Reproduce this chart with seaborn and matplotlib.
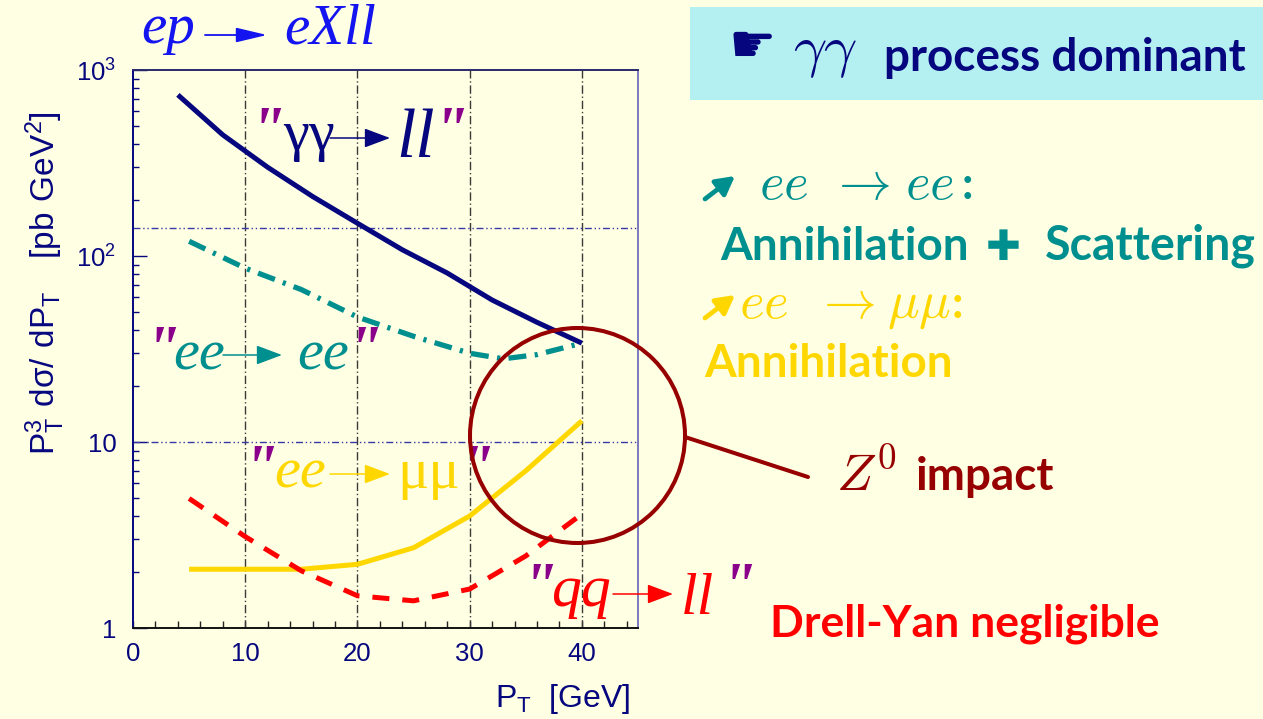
import matplotlib
matplotlib.use("Agg")
import matplotlib.pyplot as plt
import seaborn as sns
from matplotlib.patches import Ellipse, Rectangle, FancyArrowPatch
from matplotlib.lines import Line2D
from matplotlib.ticker import FixedLocator, MultipleLocator, LogLocator, NullFormatter

# ---- data: P_T (GeV) and P_T^3 dsigma/dP_T (pb GeV^2) for each subprocess ----
pt_gg = [4, 8, 12, 16, 20, 24, 28, 32, 36, 40]
xs_gg = [735, 448, 300, 209, 150, 108, 81, 58, 44, 34]

pt_ee = [5, 10, 15, 20, 25, 30, 33, 36, 40]
xs_ee = [120, 86, 66, 47, 37, 30, 28, 29.5, 34]

pt_mm = [5, 10, 15, 20, 25, 30, 35, 40]
xs_mm = [2.07, 2.07, 2.07, 2.2, 2.7, 4.0, 7.0, 13.0]

pt_qq = [5, 10, 15, 20, 25, 30, 35, 40]
xs_qq = [4.97, 3.1, 2.03, 1.49, 1.40, 1.62, 2.44, 4.1]

x_ticks = [0, 10, 20, 30, 40]
x_tick_labels = ["0", "10", "20", "30", "40"]
y_ticks = [1, 10, 100, 1000]
y_tick_labels = ["1", "10", r"$\mathregular{10^{2}}$", r"$\mathregular{10^{3}}$"]
v_grid = [10, 20, 30, 40]
h_grid = [10, 142]

# ---- colours ----
BG = "#ffffe3"
NAVY = "#06067f"
TEAL = "#008f8f"
GOLD = "#ffd700"
RED = "#ff0000"
DARKRED = "#970000"
PURPLE = "#8b008b"
BLUE = "#1414f0"
CYAN = "#b4f0f2"

sns.set_theme(style="ticks")
plt.rcParams["font.family"] = ["Liberation Sans", "DejaVu Sans"]
plt.rcParams["figure.facecolor"] = BG
plt.rcParams["savefig.facecolor"] = BG

W, H = 1263, 719
fig = plt.figure(figsize=(W / 100, H / 100), dpi=100)
ax = fig.add_axes([133 / W, 1 - 628 / H, 505 / W, 558 / H])
ax.set_facecolor("none")


def fx(x):
    return x / W


def fy(y):
    return 1 - y / H


def put(x, y, s, **kw):
    kw.setdefault("va", "baseline")
    kw.setdefault("ha", "left")
    return fig.text(fx(x), fy(y), s, **kw)


def arrow(p0, p1, color, lw=1.1, hl=16, hw=6):
    a = FancyArrowPatch((fx(p0[0]), fy(p0[1])), (fx(p1[0]), fy(p1[1])),
                        transform=fig.transFigure,
                        arrowstyle=f"-|>,head_length={hl},head_width={hw}",
                        mutation_scale=1, color=color, lw=lw,
                        shrinkA=0, shrinkB=0)
    fig.add_artist(a)


SERIF = "Liberation Serif"

# ---- grid lines ----
for v in v_grid:
    ax.axvline(v, color="#3a3a3a", lw=1.0, ls=(0, (6, 2, 1, 2)), zorder=1)
for h in h_grid:
    ax.axhline(h, color="#3838a8", lw=1.0, ls=(0, (5, 2, 1, 2, 1, 2)), zorder=1)

# ---- curves ----
sns.lineplot(x=pt_gg, y=xs_gg, ax=ax, color=NAVY, lw=3.6, sort=False, estimator=None)
sns.lineplot(x=pt_ee, y=xs_ee, ax=ax, color=TEAL, lw=3.8, sort=False, estimator=None)
ax.lines[-1].set_linestyle((0, (3.4, 1.6, 0.6, 1.6)))
sns.lineplot(x=pt_mm, y=xs_mm, ax=ax, color=GOLD, lw=3.6, sort=False, estimator=None)
sns.lineplot(x=pt_qq, y=xs_qq, ax=ax, color=RED, lw=3.6, sort=False, estimator=None)
ax.lines[-1].set_linestyle((0, (3.4, 2.6)))
for ln in ax.lines[-4:]:
    ln.set_dash_capstyle("butt")
    ln.set_solid_capstyle("butt")
    ln.set_zorder(3)

# ---- axes ----
ax.set_yscale("log")
ax.set_xlim(0, 45)
ax.set_ylim(1, 1000)
ax.xaxis.set_major_locator(FixedLocator(x_ticks))
ax.set_xticklabels(x_tick_labels)
ax.xaxis.set_minor_locator(MultipleLocator(2))
ax.yaxis.set_major_locator(FixedLocator(y_ticks))
ax.set_yticklabels(y_tick_labels)
ax.yaxis.set_minor_locator(LogLocator(base=10, subs=range(2, 10)))
ax.yaxis.set_minor_formatter(NullFormatter())

ax.tick_params(axis="x", which="both", direction="in", length=5, width=1,
               color="#222222", labelsize=18.5, labelcolor=NAVY, pad=10)
ax.tick_params(axis="y", which="major", direction="in", length=10, width=1,
               color=NAVY, labelsize=18.5, labelcolor=NAVY, pad=12)
ax.tick_params(axis="y", which="minor", direction="in", length=4.5, width=1, color=NAVY)

ax.spines["left"].set_color(NAVY)
ax.spines["left"].set_linewidth(1.4)
ax.spines["bottom"].set_color("#111111")
ax.spines["bottom"].set_linewidth(1.4)
ax.spines["right"].set_color("#7a7ac0")
ax.spines["right"].set_linewidth(1.4)
ax.spines["top"].set_color("#2a2a6a")
ax.spines["top"].set_linewidth(1.4)
ax.set_xlabel("")
ax.set_ylabel("")

# axis titles
fig.text(fx(45), fy(283), r"$\mathregular{P_T^3\ d\sigma/\ dP_T\ \ \ [pb\ GeV^2]}$",
         rotation=90, ha="center", va="center", fontsize=24, color=NAVY)
fig.text(fx(563), fy(699), r"$\mathregular{P_T}$  [GeV]", ha="center", va="center",
         fontsize=23, color=NAVY)

# ---- process title ----
put(141, 43, "ep", family=SERIF, style="italic", fontsize=41, color=BLUE)
arrow((205, 35), (267, 35), BLUE, lw=1.3, hl=19, hw=4.5)
put(284, 43, "eXll", family=SERIF, style="italic", fontsize=41, color=BLUE)

# ---- in-plot subprocess labels ----
QKW = dict(family=SERIF, weight="bold", style="italic", fontsize=46, color=PURPLE)

put(250, 150, '"', **QKW)
put(283, 150, "γγ", family=SERIF, fontsize=42, color=NAVY)
arrow((330, 138), (390, 138), NAVY)
put(396, 157, "ll", family=SERIF, style="italic", fontsize=50, color=NAVY)
put(433, 150, '"', **QKW)

put(145, 369, '"', **QKW)
put(173, 369, "ee", family=SERIF, style="italic", fontsize=42, color=TEAL)
arrow((223, 355), (282, 355), TEAL)
put(297, 369, "ee", family=SERIF, style="italic", fontsize=42, color=TEAL)
put(347, 369, '"', **QKW)

put(243, 488, '"', **QKW)
put(274, 488, "ee", family=SERIF, style="italic", fontsize=42, color=GOLD)
arrow((330, 474), (390, 474), GOLD)
put(397, 488, "μμ", family=SERIF, fontsize=42, color=GOLD)
put(459, 488, '"', **QKW)

put(522, 606, '"', **QKW)
put(551, 606, "qq", family=SERIF, style="italic", fontsize=43, color=RED)
arrow((613, 594), (673, 594), RED)
put(681, 614, "ll", family=SERIF, style="italic", fontsize=43, color=RED)
put(721, 606, '"', **QKW)

# ---- Z0 highlight ----
fig.add_artist(Ellipse((fx(577.5), fy(435.5)), width=215 / W, height=215 / H,
                       transform=fig.transFigure, fill=False, ec=DARKRED, lw=2.9,
                       zorder=5))
fig.add_artist(Line2D([fx(685), fx(808)], [fy(437), fy(477)], transform=fig.transFigure,
                      color=DARKRED, lw=2.9, solid_capstyle="round", zorder=5))

# ---- right-hand commentary ----
fig.add_artist(Rectangle((fx(690), fy(100)), (W - 690) / W, 93 / H,
                         transform=fig.transFigure, color=CYAN, lw=0, zorder=0))
put(729, 62, "☛", family="DejaVu Sans", fontsize=38, color=NAVY)
put(793, 66, r"$\gamma\gamma$", math_fontfamily="cm", fontsize=42, color=NAVY)
put(884, 71, "process dominant", family="Lato", weight="bold", fontsize=33, color=NAVY)

# bullet arrows
arrow((705, 199), (735, 176), TEAL, lw=3.4, hl=11, hw=6)
arrow((705, 318), (735, 295), GOLD, lw=3.4, hl=11, hw=6)

put(759, 199, r"$ee$", math_fontfamily="cm", fontsize=38, color=TEAL)
put(829, 199, r"$\rightarrow$", math_fontfamily="cm", fontsize=38, color=TEAL)
put(905, 199, r"$ee$", math_fontfamily="cm", fontsize=38, color=TEAL)
put(962, 199, ":", family="Lato", weight="bold", fontsize=32, color=TEAL)
put(720, 260, "Annihilation", family="Lato", weight="bold", fontsize=33, color=TEAL)
put(986, 260, "✚", family="DejaVu Sans", weight="bold", fontsize=30, color=TEAL)
put(1045, 260, "Scattering", family="Lato", weight="bold", fontsize=33.5, color=TEAL)

put(739, 318, r"$ee$", math_fontfamily="cm", fontsize=38, color=GOLD)
put(814, 318, r"$\rightarrow$", math_fontfamily="cm", fontsize=38, color=GOLD)
put(887, 318, r"$\mu\mu$", math_fontfamily="cm", fontsize=38, color=GOLD)
put(952, 318, ":", family="Lato", weight="bold", fontsize=32, color=GOLD)
put(704, 377, "Annihilation", family="Lato", weight="bold", fontsize=33, color=GOLD)

put(836, 490, r"$Z^0$", math_fontfamily="cm", fontsize=38, color=DARKRED)
put(916, 490, "impact", family="Lato", weight="bold", fontsize=33, color=DARKRED)
put(770, 637, "Drell-Yan negligible", family="Lato", weight="bold", fontsize=32, color=RED)

fig.savefig("out.png", dpi=100, facecolor=BG)
